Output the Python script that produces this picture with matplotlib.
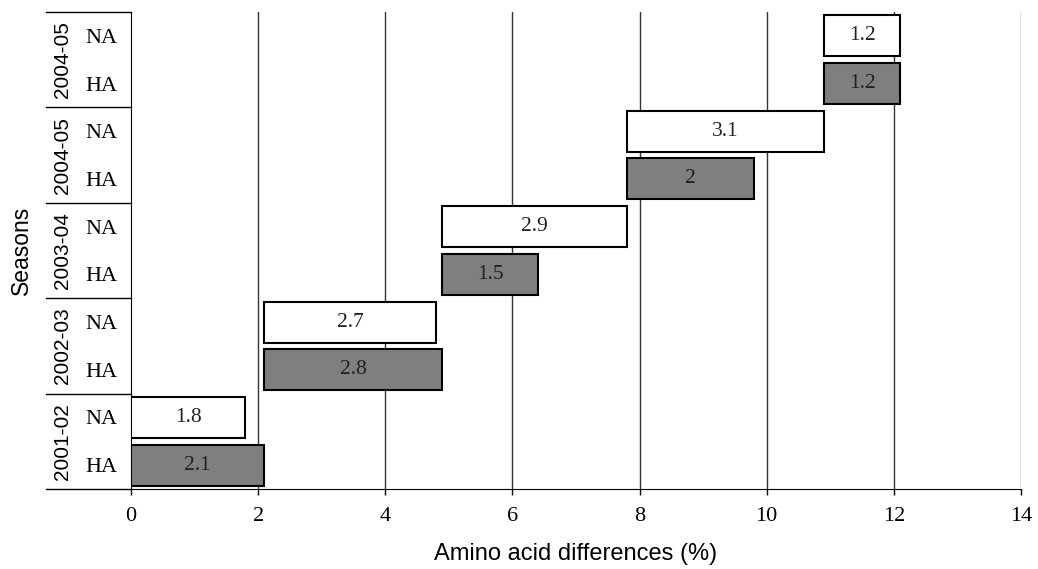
import numpy as np
import matplotlib.pyplot as plt

# seasons from bottom to top (the top one is labelled 2004-05 twice in the source)
seasons = ["2001-02", "2002-03", "2003-04", "2004-05", "2004-05"]
ha_vals = [2.1, 2.8, 1.5, 2, 1.2]
na_vals = [1.8, 2.7, 2.9, 3.1, 1.2]

# each season starts where the longer bar of the previous one ended
starts = np.concatenate([[0], np.cumsum(np.maximum(ha_vals, na_vals))[:-1]])

fig = plt.figure(figsize=(10.38, 5.69), dpi=100)
ax = fig.add_axes([0.1262, 0.1406, 0.8574, 0.8383])

n = len(seasons)
ha_pos = np.arange(n) * 2
na_pos = ha_pos + 1
h = 0.86

ax.barh(ha_pos, ha_vals, left=starts, height=h, color="#7f7f7f",
        edgecolor="black", linewidth=1.5, zorder=3)
ax.barh(na_pos, na_vals, left=starts, height=h, color="white",
        edgecolor="black", linewidth=1.5, zorder=3)

for p, s, v in zip(ha_pos, starts, ha_vals):
    ax.text(s + v / 2, p, f"{v:g}", ha="center", va="center",
            family="Liberation Serif", fontsize=15.5, color="#222222", zorder=4)
for p, s, v in zip(na_pos, starts, na_vals):
    ax.text(s + v / 2, p, f"{v:g}", ha="center", va="center",
            family="Liberation Serif", fontsize=15.5, color="#222222", zorder=4)

ax.set_xlim(0, 14)
ax.set_ylim(-0.5, 2 * n - 0.5)
ax.set_xticks(range(0, 15, 2))
ax.set_xticklabels([str(t) for t in range(0, 15, 2)], family="Liberation Serif", fontsize=16)
ax.tick_params(axis="x", length=4, width=1, pad=9)
for x in range(2, 15, 2):
    ax.axvline(x, color="#333333" if x < 14 else "#777777", lw=1, zorder=1)

ax.set_yticks(np.concatenate([ha_pos, na_pos]))
ax.set_yticklabels(["HA"] * n + ["NA"] * n, family="Liberation Serif", fontsize=16)
ax.tick_params(axis="y", length=0, pad=10)

ax.spines["top"].set_visible(False)
ax.spines["right"].set_visible(False)

# group separators and season labels left of the axis
x0 = -0.0955
for k in range(n + 1):
    yy = 2 * k - 0.5
    ax.plot([x0, 0], [yy, yy], transform=ax.get_yaxis_transform(),
            color="black", lw=1, clip_on=False)
for k, s in enumerate(seasons):
    ax.text(-0.0775, 2 * k + 0.5, s, rotation=90, ha="center", va="center",
            transform=ax.get_yaxis_transform(), family="Liberation Sans", fontsize=15)

ax.text(-0.1225, 0.5, "Seasons", rotation=90, ha="center", va="center",
        transform=ax.transAxes, family="Liberation Sans", fontsize=16.5)
ax.set_xlabel("Amino acid differences (%)", family="Liberation Sans", fontsize=17, labelpad=12)

fig.savefig("out.png", dpi=100)
